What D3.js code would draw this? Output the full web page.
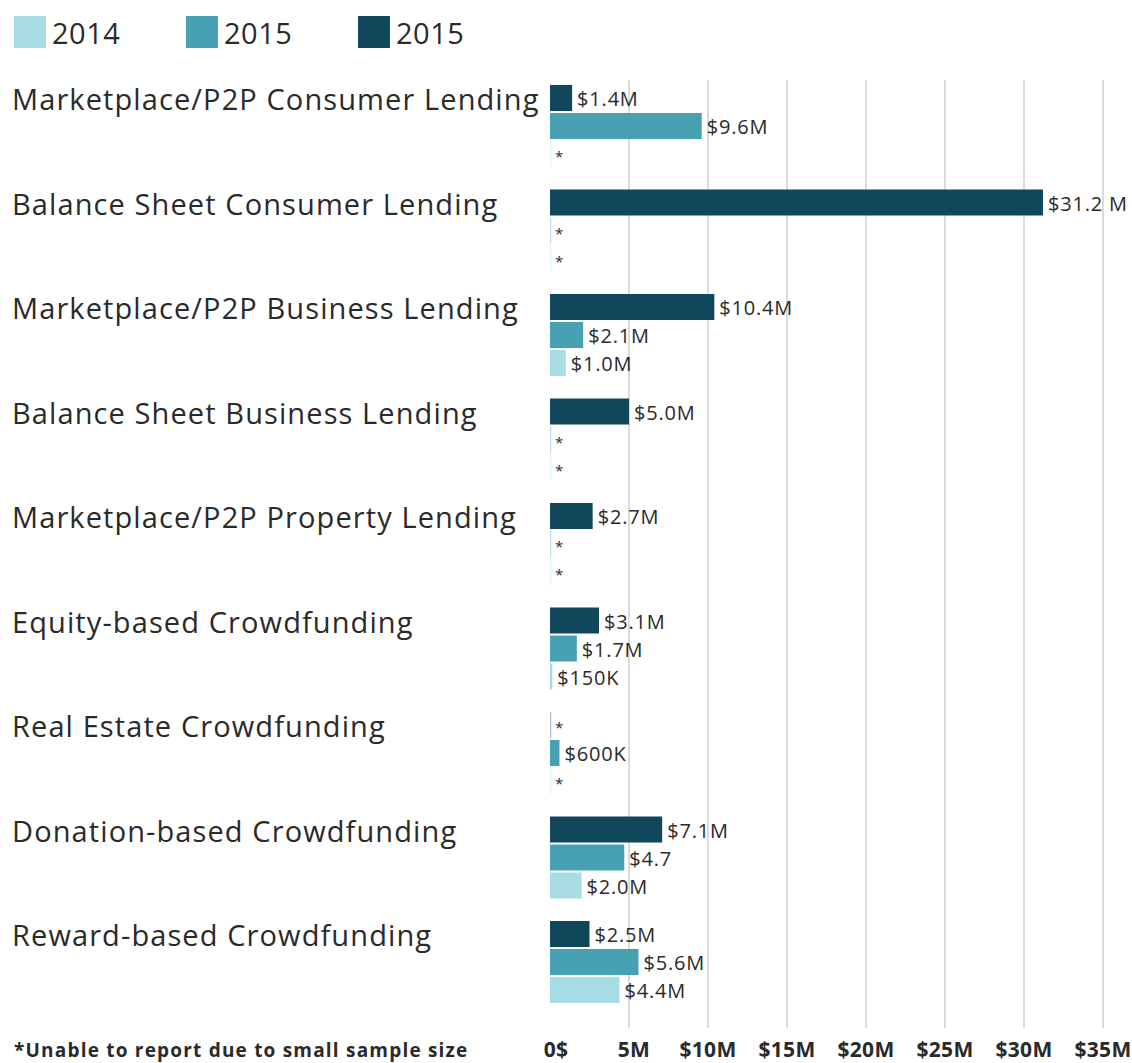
<!DOCTYPE html>
<html>
<head>
<meta charset="utf-8">
<script src="https://cdn.jsdelivr.net/npm/d3@7"></script>
<style>
    body { margin: 0; background: #fff; }
    text { font-family: "Open Sans", sans-serif; fill: #2a2a2a; }
</style>
</head>
<body>
<svg class="chart"></svg>
<script>
// Data
const categories = [
    "Marketplace/P2P Consumer Lending",
    "Balance Sheet Consumer Lending",
    "Marketplace/P2P Business Lending",
    "Balance Sheet Business Lending",
    "Marketplace/P2P Property Lending",
    "Equity-based Crowdfunding",
    "Real Estate Crowdfunding",
    "Donation-based Crowdfunding",
    "Reward-based Crowdfunding"
];
const seriesKeys = ["dark", "mid", "light"]; // top to bottom in each group
const legendNames = ["2014", "2015", "2015"];
const legendKeys = ["light", "mid", "dark"];

// null = unable to report (*)
const dark2015 = [1.4, 31.2, 10.4, 5.0, 2.7, 3.1, null, 7.1, 2.5];
const mid2015 = [9.6, null, 2.1, null, null, 1.7, 0.6, 4.7, 5.6];
const light2014 = [null, null, 1.0, null, null, 0.15, null, 2.0, 4.4];

const darkLabels = ["$1.4M", "$31.2 M", "$10.4M", "$5.0M", "$2.7M", "$3.1M", "*", "$7.1M", "$2.5M"];
const midLabels = ["$9.6M", "*", "$2.1M", "*", "*", "$1.7M", "$600K", "$4.7", "$5.6M"];
const lightLabels = ["*", "*", "$1.0M", "*", "*", "$150K", "*", "$2.0M", "$4.4M"];

const xTicks = [0, 5, 10, 15, 20, 25, 30, 35];
const xTickLabels = ["0$", "5M", "$10M", "$15M", "$20M", "$25M", "$30M", "$35M"];
const footnote = "*Unable to report due to small sample size";

const colors = { light: "#a8dde6", mid: "#48a1b3", dark: "#10475a" };

function makeChart() {
    const svgWidth = 1132,
        svgHeight = 1063;

    const canvas = d3.select(".chart")
        .attr("width", svgWidth)
        .attr("height", svgHeight);

    const values = { dark: dark2015, mid: mid2015, light: light2014 };
    const labels = { dark: darkLabels, mid: midLabels, light: lightLabels };

    // Scales
    const x = d3.scaleLinear()
        .domain([0, 35])
        .range([550, 1103]);

    const y0 = d3.scaleBand()
        .domain(categories)
        .range([85, 85 + 104.5 * categories.length]);

    const y1 = d3.scaleBand()
        .domain(seriesKeys)
        .range([0, 82])
        .paddingInner(2 / 28);

    // Grid lines
    canvas.append("g")
        .selectAll("line")
        .data(xTicks.slice(1))
        .enter().append("line")
        .attr("x1", d => x(d))
        .attr("x2", d => x(d))
        .attr("y1", 80)
        .attr("y2", 1028)
        .attr("stroke", "#cfcfcf")
        .attr("stroke-width", 1.5);

    // Tick labels
    canvas.append("g")
        .selectAll("text")
        .data(xTicks)
        .enter().append("text")
        .attr("x", d => x(d) + (d === 0 ? 6 : d === 5 ? 5 : 0))
        .attr("y", 1057)
        .attr("text-anchor", "middle")
        .style("font-size", "21px")
        .style("font-weight", "700")
        .style("letter-spacing", "0.3px")
        .text((d, i) => xTickLabels[i]);

    // Category labels
    canvas.append("g")
        .selectAll("text")
        .data(categories)
        .enter().append("text")
        .attr("x", 12)
        .attr("y", d => y0(d) + 25)
        .style("font-size", "29px")
        .style("letter-spacing", "1.1px")
        .text(d => d);

    // Bars
    const rows = [];
    categories.forEach((c, i) => {
        seriesKeys.forEach(k => {
            rows.push({ cat: c, key: k, value: values[k][i], label: labels[k][i] });
        });
    });

    const groups = canvas.append("g")
        .selectAll("g")
        .data(rows)
        .enter().append("g")
        .attr("transform", d => `translate(0,${y0(d.cat) + y1(d.key)})`);

    groups.append("rect")
        .attr("x", x(0))
        .attr("y", 0)
        .attr("height", y1.bandwidth())
        .attr("width", d => d.value === null ? 1.2 : x(d.value) - x(0))
        .attr("fill", d => colors[d.key])
        .attr("fill-opacity", d => d.value === null ? 0.35 : 1);

    groups.append("text")
        .attr("x", d => d.value === null ? x(0) + 5 : x(d.value) + 5)
        .attr("y", 21)
        .style("font-size", d => d.value === null ? "15px" : "20px")
        .style("letter-spacing", "0.8px")
        .text(d => d.label);

    // Legend
    const legend = canvas.append("g")
        .selectAll("g")
        .data(legendKeys)
        .enter().append("g")
        .attr("transform", (d, i) => `translate(${14 + i * 172},16)`);

    legend.append("rect")
        .attr("width", 32)
        .attr("height", 32)
        .attr("fill", d => colors[d]);

    legend.append("text")
        .attr("x", 38)
        .attr("y", 28)
        .style("font-size", "29px")
        .style("letter-spacing", "0.5px")
        .text((d, i) => legendNames[i]);

    // Footnote
    canvas.append("text")
        .attr("x", 14)
        .attr("y", 1057)
        .style("font-size", "19px")
        .style("font-weight", "700")
        .style("letter-spacing", "1.2px")
        .text(footnote);
}

makeChart();
</script>
</body>
</html>
